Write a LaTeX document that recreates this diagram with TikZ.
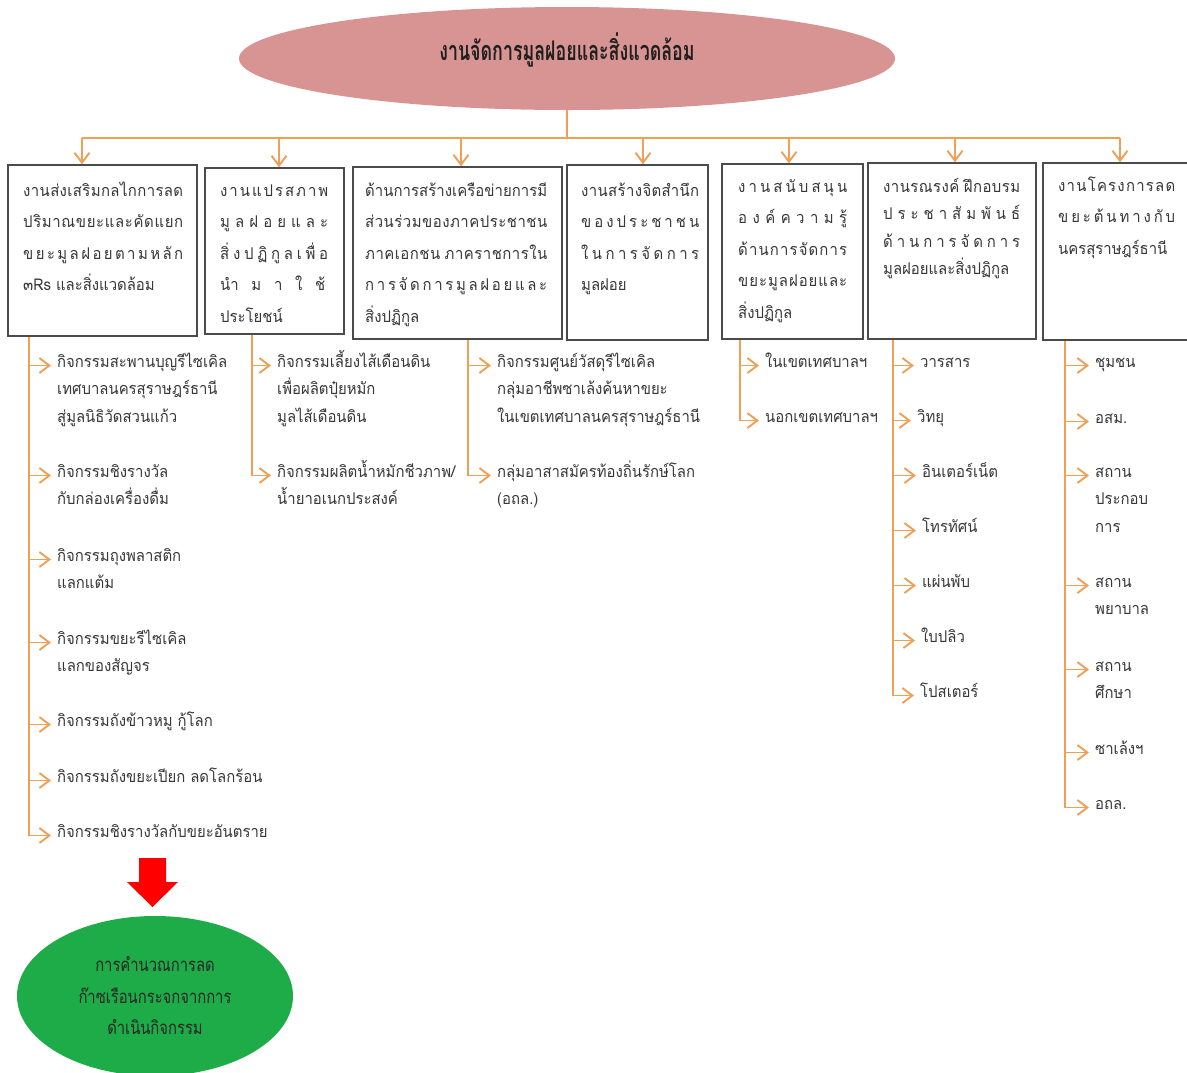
\documentclass[tikz,border=0pt]{standalone}
\usepackage{fontspec}
\usetikzlibrary{arrows.meta,shapes.geometric}
\newfontfamily\thai[Script=Thai,FakeStretch=0.92]{Loma}
\newfontfamily\thaicond[Script=Thai,FakeStretch=0.8]{Loma}
\newfontfamily\thaititle[Script=Thai,FakeStretch=0.66]{Loma}
\definecolor{linkorange}{RGB}{240,160,85}
\definecolor{boxgray}{RGB}{75,75,75}
\definecolor{txtgray}{RGB}{55,55,55}
\definecolor{titlefill}{RGB}{216,148,147}
\definecolor{calcgreen}{RGB}{30,172,72}
% stacked lines, baseline at the first line
\newcommand\lines[1]{\begin{tabular}[t]{@{}l@{}}#1\end{tabular}}
% a line spread over a fixed width (Thai distributed justification)
\newcommand\J[2]{\hbox to #1pt{\spaceskip=0pt plus 1fil\relax #2}}
\newcommand\W{\hskip 4pt plus 1fil\relax}
\tikzset{
  lk/.style={draw=linkorange, line width=1.9pt},
  lka/.style={lk, -{Straight Barb[length=10pt,width=15pt]}},
  box/.style={draw=boxgray, line width=1.4pt, fill=white, inner sep=0pt},
  btxt/.style={anchor=base west, inner sep=0pt, text=txtgray,
    font=\thai\fontsize{16.2}{31.5}\selectfont},
  itm/.style={anchor=base west, inner sep=0pt, text=txtgray,
    font=\thai\fontsize{16.2}{27.5}\selectfont},
}
\begin{document}
\begin{tikzpicture}[x=1pt,y=-1pt]
\useasboundingbox (0,0) rectangle (1187,1072);

% head of the chart
\node[ellipse, fill=titlefill, minimum width=656pt, minimum height=103pt, inner sep=0pt] (title) at (567,58.5) {};
\node[font=\thaititle\bfseries\fontsize{27}{30}\selectfont, text=black!88] (titletxt) at (567,50) {งานจัดการมูลฝอยและสิ่งแวดล้อม};

% the seven work areas
\node[box, minimum width=189pt, minimum height=171pt] (b1) at (102.5,250.5) {};
\node[box, minimum width=139pt, minimum height=166pt] (b2) at (274.5,251) {};
\node[box, minimum width=209pt, minimum height=172pt] (b3) at (457.5,253) {};
\node[box, minimum width=141pt, minimum height=175pt] (b4) at (637.5,252.5) {};
\node[box, minimum width=141pt, minimum height=175pt] (b5) at (792.5,251.5) {};
\node[box, minimum width=168pt, minimum height=176pt] (b6) at (952,251) {};
\node[box, minimum width=157pt, minimum height=177pt] (b7) at (1121.5,251.5) {};

\node[btxt] (t1) at (23,196) {\lines{\J{160}{ง า น ส่ ง เ ส ริ ม ก ล ไ ก ก า ร ล ด}\\\J{160}{ป ริ ม า ณ ข ย ะ แ ล ะ คั ด แ ย ก}\\\J{160}{ข ย ะ มู ล ฝ อ ย ต า ม ห ลั ก}\\๓Rs และสิ่งแวดล้อม}};
\node[btxt] (t2) at (220,196) {\lines{\J{108}{ง า น แ ป ร ส ภ า พ}\\\J{108}{มู ล ฝ อ ย แ ล ะ}\\\J{108}{สิ่ ง ป ฏิ กู ล เ พื่ อ}\\\J{105}{นำ ม า ใ ช้}\\ประโยชน์}};
\node[btxt] (t3) at (365,196) {\lines{\J{182}{ด้ า น ก า ร ส ร้ า ง เ ค รื อ ข่ า ย ก า ร มี}\\\J{182}{ส่ ว น ร่ ว ม ข อ ง ภ า ค ป ร ะ ช า ช น}\\\J{182}{ภ า ค เ อ ก ช น\W ภ า ค ร า ช ก า ร ใ น}\\\J{182}{ก า ร จั ด ก า ร มู ล ฝ อ ย แ ล ะ}\\สิ่งปฏิกูล}};
\node[btxt] (t4) at (581,196) {\lines{\J{118}{ง า น ส ร้ า ง จิ ต สำ นึ ก}\\\J{118}{ข อ ง ป ร ะ ช า ช น}\\\J{118}{ใ น ก า ร จั ด ก า ร}\\มูลฝอย}};
\node[btxt] (t5) at (738,192) {\lines{\J{109}{ง า น ส นั บ ส นุ น}\\\J{109}{อ ง ค์ ค ว า ม รู้}\\\J{109}{ด้ า น ก า ร จั ด ก า ร}\\\J{109}{ข ย ะ มู ล ฝ อ ย แ ล ะ}\\สิ่งปฏิกูล}};
\node[btxt, font=\thai\fontsize{16.2}{27.5}\selectfont] (t6) at (883,192) {\lines{\J{137}{ง า น ร ณ ร ง ค์\W ฝึ ก อ บ ร ม}\\\J{137}{ป ร ะ ช า สั ม พั น ธ์}\\\J{137}{ด้ า น ก า ร จั ด ก า ร}\\มูลฝอยและสิ่งปฏิกูล}};
\node[btxt] (t7) at (1058,191) {\lines{\J{117}{ง า น โ ค ร ง ก า ร ล ด}\\\J{117}{ข ย ะ ต้ น ท า ง กั บ}\\นครสุราษฎร์ธานี}};

% bus from the head to the work areas
\coordinate (p1) at (82,138);
\coordinate (p2) at (279,138);
\coordinate (p3) at (461,138);
\coordinate (p4) at (643,138);
\coordinate (p5) at (789,138);
\coordinate (p6) at (955,138);
\coordinate (p7) at (1120,138);
\draw[lk] (title.south) -- (title.south |- p1);
\draw[lk] (p1) -- (p7);
\foreach \i in {1,...,7} \draw[lka] (p\i) -- (p\i |- b\i.north);

% activity lists
\node[itm] (a1) at (57,367) {\lines{กิจกรรมสะพานบุญรีไซเคิล\\เทศบาลนครสุราษฎร์ธานี\\สู่มูลนิธิวัดสวนแก้ว}};
\node[itm] (a2) at (57,477) {\lines{กิจกรรมชิงรางวัล\\กับกล่องเครื่องดื่ม}};
\node[itm] (a3) at (57,561) {\lines{กิจกรรมถุงพลาสติก\\แลกแต้ม}};
\node[itm] (a4) at (57,644) {\lines{กิจกรรมขยะรีไซเคิล\\แลกของสัญจร}};
\node[itm] (a5) at (57,726) {กิจกรรมถังข้าวหมู กู้โลก};
\node[itm] (a6) at (57,782) {กิจกรรมถังขยะเปียก ลดโลกร้อน};
\node[itm] (a7) at (57,837) {กิจกรรมชิงรางวัลกับขยะอันตราย};

\node[itm] (c1) at (277,367) {\lines{กิจกรรมเลี้ยงไส้เดือนดิน\\เพื่อผลิตปุ๋ยหมัก\\มูลไส้เดือนดิน}};
\node[itm] (c2) at (277,477) {\lines{กิจกรรมผลิตน้ำหมักชีวภาพ/\\น้ำยาอเนกประสงค์}};

\node[itm] (d1) at (497,367) {\lines{กิจกรรมศูนย์วัสดุรีไซเคิล\\กลุ่มอาชีพซาเล้งค้นหาขยะ\\ในเขตเทศบาลนครสุราษฎร์ธานี}};
\node[itm] (d2) at (497,477) {\lines{กลุ่มอาสาสมัครท้องถิ่นรักษ์โลก\\(อถล.)}};

\node[itm] (e1) at (765,367) {ในเขตเทศบาลฯ};
\node[itm] (e2) at (765,422) {นอกเขตเทศบาลฯ};

\node[itm] (f1) at (920,367) {วารสาร};
\node[itm] (f2) at (917,422) {วิทยุ};
\node[itm] (f3) at (922,477) {อินเตอร์เน็ต};
\node[itm] (f4) at (922,532) {โทรทัศน์};
\node[itm] (f5) at (922,587) {แผ่นพับ};
\node[itm] (f6) at (921,642) {ใบปลิว};
\node[itm] (f7) at (920,697) {โปสเตอร์};

\node[itm] (g1) at (1095,367) {ชุมชน};
\node[itm] (g2) at (1095,423) {อสม.};
\node[itm] (g3) at (1095,477) {\lines{สถาน\\ประกอบ\\การ}};
\node[itm] (g4) at (1095,587) {\lines{สถาน\\พยาบาล}};
\node[itm] (g5) at (1095,671) {\lines{สถาน\\ศึกษา}};
\node[itm] (g6) at (1095,754) {ซาเล้งฯ};
\node[itm] (g7) at (1095,809) {อถล.};

% list spines
\coordinate (v1) at (29,0 |- b1.south);
\coordinate (v2) at (252,0 |- b2.south);
\coordinate (v3) at (468,0 |- b3.south);
\coordinate (v4) at (740,0 |- b5.south);
\coordinate (v5) at (893,0 |- b6.south);
\coordinate (v6) at (1065,0 |- b7.south);

\foreach \n in {a1,a2,a3,a4,a5,a6,a7,c1,c2,d1,d2,e1,e2,f1,f2,f3,f4,f5,f6,f7,g1,g2,g3,g4,g5,g6,g7}
  \coordinate (x\n) at ([xshift=-6pt,yshift=1.5pt]\n.base west);
\draw[lka] (v1) |- (xa7);
\foreach \n in {a1,a2,a3,a4,a5,a6} \draw[lka] (v1 |- x\n) -- (x\n);
\draw[lka] (v2) |- (xc2);
\draw[lka] (v2 |- xc1) -- (xc1);
\draw[lka] (v3) |- (xd2);
\draw[lka] (v3 |- xd1) -- (xd1);
\draw[lka] (v4) |- (xe2);
\draw[lka] (v4 |- xe1) -- (xe1);
\draw[lka] (v5) |- (xf7);
\foreach \n in {f1,f2,f3,f4,f5,f6} \draw[lka] (v5 |- x\n) -- (x\n);
\draw[lka] (v6) |- (xg7);
\foreach \n in {g1,g2,g3,g4,g5,g6} \draw[lka] (v6 |- x\n) -- (x\n);

% outcome
\fill[red] (139,858) -- (166,858) -- (166,882) -- (178,882) -- (152.5,907) -- (127,882) -- (139,882) -- cycle;
\node[ellipse, fill=calcgreen, minimum width=276pt, minimum height=160pt, inner sep=0pt, align=center,
  font=\thaicond\fontsize{18.5}{31.5}\selectfont, text=black!85] (calc) at (155,996)
  {การคำนวณการลด\\ก๊าซเรือนกระจกจากการ\\ดำเนินกิจกรรม};
\end{tikzpicture}
\end{document}
